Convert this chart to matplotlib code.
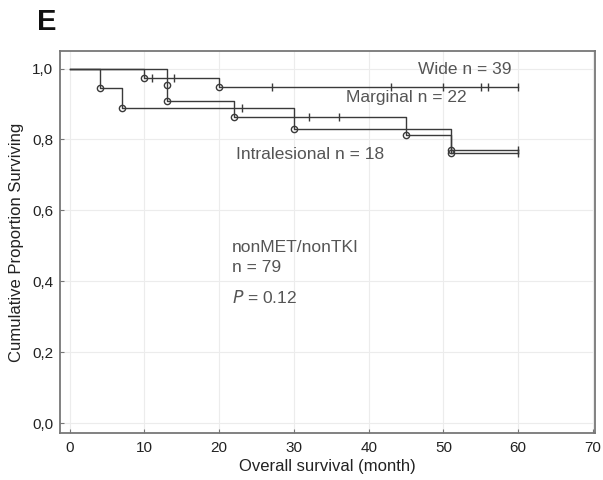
import numpy as np
import matplotlib
matplotlib.use("Agg")
import matplotlib.pyplot as plt
from matplotlib.ticker import FuncFormatter
from matplotlib import font_manager

# ---- data ----
wide_times = [10, 20]
wide_surv = [0.974, 0.948]
wide_censor = [11, 14, 27, 43, 50, 55, 56, 60]

marg_times = [13, 13, 22, 45, 51]
marg_surv = [0.955, 0.909, 0.864, 0.813, 0.762]
marg_censor = [32, 36, 60]

intra_times = [4, 7, 30, 51]
intra_surv = [0.944, 0.889, 0.830, 0.769]
intra_censor = [23, 60]

end_time = 60
x_ticks = [0, 10, 20, 30, 40, 50, 60, 70]
y_ticks = [0.0, 0.2, 0.4, 0.6, 0.8, 1.0]

plt.rcParams['font.family'] = ['Liberation Sans', 'DejaVu Sans']
names = {f.name for f in font_manager.fontManager.ttflist}
narrow = 'Liberation Sans Narrow' if 'Liberation Sans Narrow' in names else 'Liberation Sans'

fig = plt.figure(figsize=(6.03, 4.80), dpi=100)
ax = fig.add_axes([0.0995, 0.098, 0.8875, 0.796])

lc = '#3a3a3a'

def level_at(times, surv, t):
    lvl = 1.0
    for tt, s in zip(times, surv):
        if tt <= t:
            lvl = s
    return lvl

for times, surv, cens in [(wide_times, wide_surv, wide_censor),
                          (marg_times, marg_surv, marg_censor),
                          (intra_times, intra_surv, intra_censor)]:
    xs = [0] + list(times) + [end_time]
    ys = [1.0] + list(surv) + [surv[-1]]
    ax.step(xs, ys, where='post', color=lc, lw=1.0, zorder=3)
    ax.plot(times, surv, 'o', ms=4.5, mfc='none', mec=lc, mew=1.0, zorder=4)
    cy = [level_at(times, surv, c) for c in cens]
    ax.plot(cens, cy, '|', ms=6, color=lc, mew=1.0, zorder=4)

ax.set_xlim(-1.3, 70.3)
ax.set_ylim(-0.028, 1.05)
ax.set_xticks(x_ticks)
ax.set_yticks(y_ticks)
ax.yaxis.set_major_formatter(FuncFormatter(lambda v, p: f"{v:.1f}".replace('.', ',')))
ax.grid(True, color='#ececec', lw=0.8, zorder=0)
ax.set_axisbelow(True)
for s in ax.spines.values():
    s.set_color('#777777')
    s.set_linewidth(1.3)
ax.tick_params(direction='in', length=3, width=0.8, color='#777777',
               labelsize=11, labelcolor='#222222')
ax.tick_params(axis='y', pad=5)
ax.tick_params(axis='x', pad=6)
for lab in ax.get_xticklabels() + ax.get_yticklabels():
    lab.set_family(narrow)

tc = '#555555'
fs = 12.5
ax.text(46.6, 0.997, 'Wide n = 39', fontsize=fs, color=tc, va='center')
ax.text(36.9, 0.918, 'Marginal n = 22', fontsize=fs, color=tc, va='center')
ax.text(22.2, 0.757, 'Intralesional n = 18', fontsize=fs, color=tc, va='center')
ax.text(21.7, 0.494, 'nonMET/nonTKI', fontsize=fs, color=tc, va='center')
ax.text(21.7, 0.438, 'n = 79', fontsize=fs, color=tc, va='center')
ax.text(21.7, 0.353, r'$\it{P}$ = 0.12', fontsize=fs, color=tc, va='center')

ax.set_xlabel('Overall survival (month)', fontsize=12, color='#222222')
ax.set_ylabel('Cumulative Proportion Surviving', fontsize=12, color='#222222')
ax.xaxis.set_label_coords(0.5, -0.089)
ax.yaxis.set_label_coords(-0.082, 0.5)
ax.xaxis.label.set_va('center')
ax.yaxis.label.set_va('center')

fig.text(0.061, 0.954, 'E', fontsize=21, fontweight='bold', color='#111111', va='center')

fig.savefig('out.png', dpi=100)
